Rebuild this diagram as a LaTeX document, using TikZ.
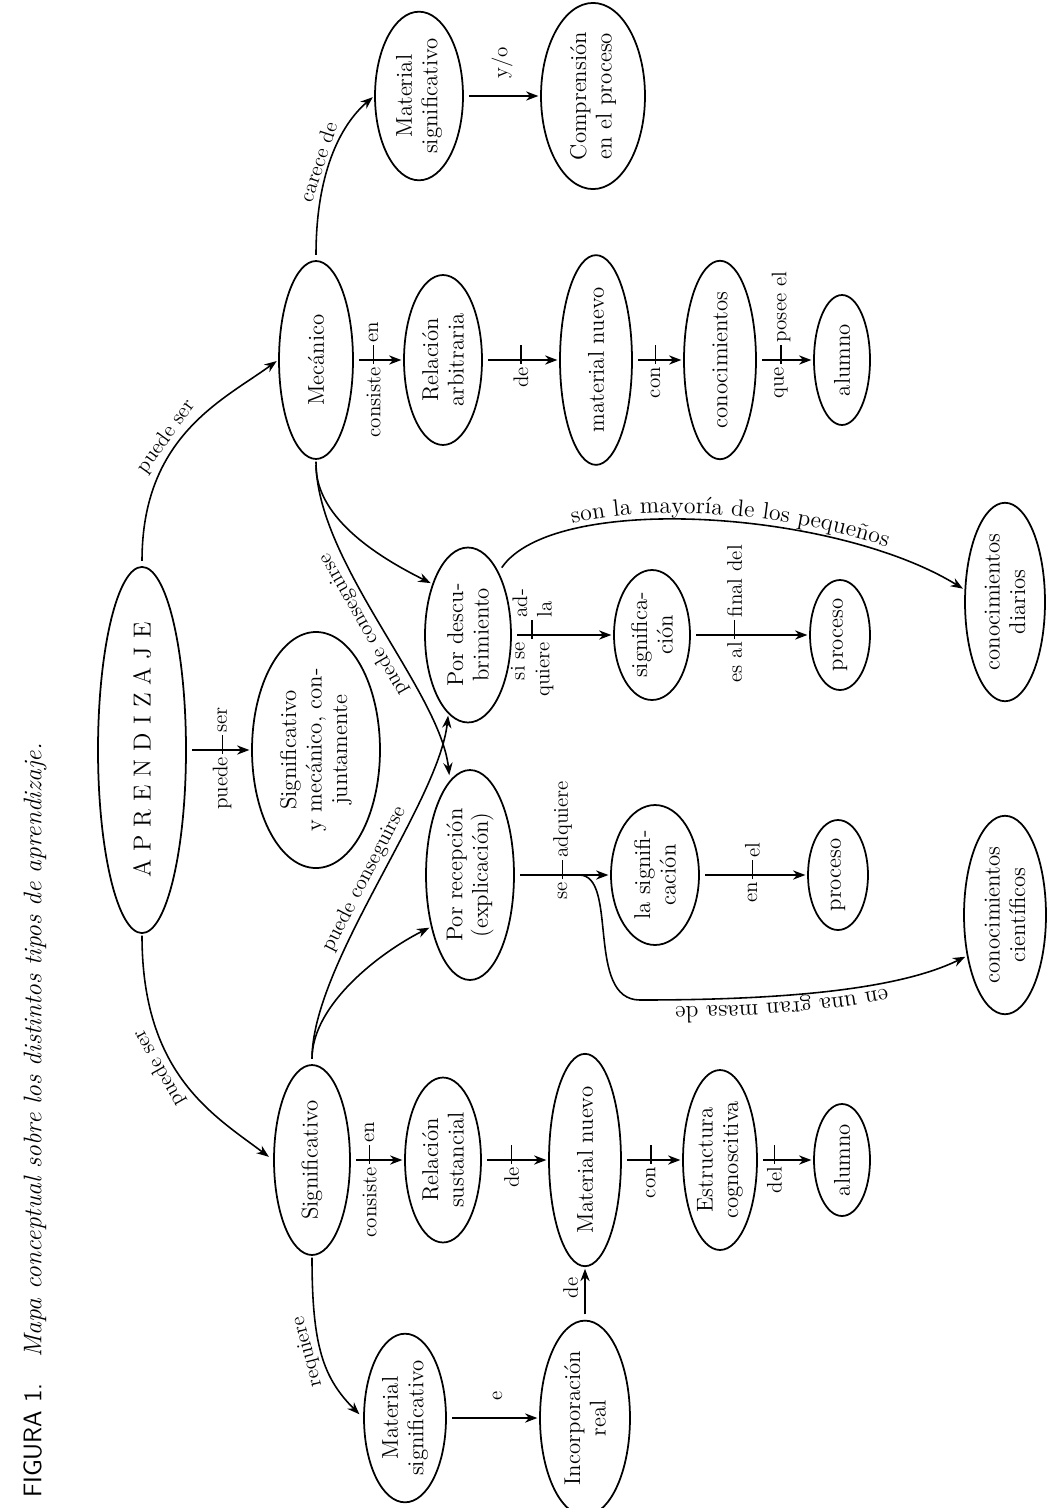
\documentclass[tikz,border=0pt]{standalone}
\usepackage{tikz}
\usetikzlibrary{arrows.meta,shapes.geometric,decorations.text}

\tikzset{
  concept/.style = {ellipse,draw,line width=1pt,rotate=90,align=center,
                    inner sep=1pt,font=\fontsize{13}{14.5}\selectfont},
  dims/.style 2 args = {minimum width=#1,minimum height=#2},
  arrow/.style   = {->,>=Stealth,line width=.9pt,shorten <=3pt,shorten >=1pt},
  lbl/.style     = {rotate=90,inner sep=1pt,font=\large},
  lo/.style      = {lbl,anchor=east,outer sep=3pt},
  hi/.style      = {lbl,anchor=west,outer sep=9pt},
  lft/.style     = {lbl,anchor=south,outer sep=3pt},
  clbl/.style    = {sloped,inner sep=2pt,font=\large},
  tickbar/.style = {rectangle,fill,inner sep=0pt,minimum width=.8pt,
                    minimum height=11pt,yshift=3pt},
}

\begin{document}
\begin{tikzpicture}[x=0.02cm,y=-0.02cm]
  \useasboundingbox (0,0) rectangle (1058,1508);

  % caption
  \node[lbl,anchor=west,font=\fontsize{14.5}{16}\selectfont] (figcap) at (35,1500)
       {\textsf{FIGURA 1.}\quad\textit{Mapa conceptual sobre los distintos tipos de aprendizaje.}};

  % concepts
  \node[concept,dims={5.8cm}{1.76cm},font=\fontsize{14}{16}\selectfont] (aprend) at (142,750) {A P R E N D I Z A J E};
  \node[concept,dims={4.0cm}{2.56cm}] (conj) at (316,750) {Significativo\\y mecánico, con-\\juntamente};
  \node[concept,dims={3.96cm}{1.48cm}] (mec) at (316,360) {Mecánico};
  \node[concept,dims={3.8cm}{1.52cm}] (sig) at (312,1160) {Significativo};

  \node[concept,dims={3.3cm}{1.76cm}] (matsigA) at (419,96) {Material\\significativo};
  \node[concept,dims={3.56cm}{2.08cm}] (compr) at (593,96) {Comprensión\\en el proceso};

  \node[concept,dims={3.4cm}{1.56cm}] (relarb) at (443,360) {Relación\\arbitraria};
  \node[concept,dims={3.8cm}{1.44cm}] (matnuevoA) at (596,360) {material nuevo};
  \node[concept,dims={3.9cm}{1.44cm}] (conocA) at (720,360) {conocimientos};
  \node[concept,dims={2.6cm}{1.12cm}] (alumA) at (842,360) {alumno};

  \node[concept,dims={3.5cm}{1.72cm}] (desc) at (468,635) {Por descu-\\brimiento};
  \node[concept,dims={2.6cm}{1.52cm}] (signifA) at (652,635) {significa-\\ción};
  \node[concept,dims={2.2cm}{1.2cm}] (procA) at (840,635) {proceso};
  \node[concept,dims={3.5cm}{1.6cm}] (diar) at (1005,602) {conocimientos\\diarios};

  \node[concept,dims={4.2cm}{1.76cm}] (recep) at (470,875) {Por recepción\\(explicación)};
  \node[concept,dims={2.8cm}{1.76cm}] (signifB) at (655,875) {la signifi-\\cación};
  \node[concept,dims={2.2cm}{1.2cm}] (procB) at (838,875) {proceso};
  \node[concept,dims={3.8cm}{1.64cm}] (cient) at (1005,915) {conocimientos\\científicos};

  \node[concept,dims={3.3cm}{1.52cm}] (relsus) at (443,1160) {Relación\\sustancial};
  \node[concept,dims={3.7cm}{1.44cm}] (matnuevoB) at (585,1160) {Material nuevo};
  \node[concept,dims={3.6cm}{1.48cm}] (estr) at (720,1160) {Estructura\\cognoscitiva};
  \node[concept,dims={2.24cm}{1.12cm}] (alumB) at (842,1160) {alumno};

  \node[concept,dims={3.1cm}{1.64cm}] (matsigB) at (405,1418) {Material\\significativo};
  \node[concept,dims={3.5cm}{1.8cm}] (incorp) at (585,1418) {Incorporación\\real};

  % curved links
  \draw[arrow] (aprend.east) .. controls +(0,-130) and +(-55,40) .. (mec.north)
       node[pos=.42,clbl,above] {puede ser};
  \draw[arrow,<-] (sig.north) .. controls +(-60,-45) and +(0,140) .. (aprend.west)
       node[pos=.6,clbl,allow upside down,above] {puede ser};
  \draw[arrow] (mec.east) .. controls +(0,-85) and +(-35,30) .. (matsigA.north)
       node[pos=.45,clbl,above] {carece de};
  \draw[arrow,<-] (matsigB.north) .. controls +(-40,-40) and +(0,90) .. (sig.west)
       node[pos=.55,clbl,allow upside down,above] {requiere};

  \draw[arrow] (mec.west) .. controls +(0,60) and +(-50,-25) .. (desc.35);
  \draw[arrow,<-] (recep.12) .. controls +(-10,-90) and +(0,102) .. (mec.west)
       node[pos=.52,clbl,allow upside down,above] {puede conseguirse};
  \draw[arrow] (sig.east) .. controls +(0,-100) and +(-10,90) .. (desc.166)
       node[pos=.5,clbl,above] {puede conseguirse};
  \draw[arrow] (sig.east) .. controls +(0,-60) and +(-50,25) .. (recep.143);

  \draw[arrow] (desc.334) .. controls +(55,-80) and +(-130,-80) .. (diar.73);
  \path[decorate,decoration={text along path,text align=center,raise=4pt,
        text={|\fontsize{13.5}{15}\selectfont|son la mayoría de los pequeños}}]
       (desc.334) .. controls +(55,-80) and +(-130,-80) .. (diar.73);

  % straight links
  \draw[arrow] (aprend) -- (conj) node[pos=.55,tickbar]{} node[pos=.55,lo]{puede} node[pos=.55,hi]{ser};
  \draw[arrow] (matsigA) -- (compr) node[midway,hi]{y/o};
  \draw[arrow] (mec) -- (relarb) node[pos=.4,tickbar]{} node[pos=.4,lo]{consiste} node[pos=.4,hi]{en};
  \draw[arrow] (relarb) -- (matnuevoA) node[pos=.5,tickbar]{} node[pos=.5,lo]{de};
  \draw[arrow] (matnuevoA) -- (conocA) node[pos=.45,tickbar]{} node[pos=.45,lo]{con};
  \draw[arrow] (conocA) -- (alumA) node[pos=.43,tickbar]{} node[pos=.43,lo]{que} node[pos=.43,hi]{posee el};

  \draw[arrow] (desc) -- (signifA) node[pos=.2,tickbar]{}
       node[pos=.2,lo,align=right]{si se\\quiere} node[pos=.2,hi,align=left]{ad-\\la};
  \draw[arrow] (signifA) -- (procA) node[pos=.37,tickbar]{} node[pos=.37,lo]{es al} node[pos=.37,hi]{final del};

  \draw[arrow] (recep) -- (signifB) node[pos=.5,tickbar]{} node[pos=.5,lo]{se} node[pos=.5,hi]{adquiere}
       coordinate[pos=.62] (fork);
  \draw[arrow] (signifB) -- (procB) node[pos=.49,tickbar]{} node[pos=.49,lo]{en} node[pos=.49,hi]{el};
  \coordinate (dip) at (640,1000);
  \draw[arrow] (fork) .. controls +(45,0) and +(-55,0) .. (dip)
       .. controls +(120,0) and +(-75,37) .. (cient.137);
  \path[decorate,decoration={text along path,text align={center,left indent=1cm},raise=4pt,
        text={|\fontsize{13.5}{15}\selectfont|en una gran masa de}}]
       (cient.137) .. controls +(-75,37) and +(120,0) .. (dip);

  \draw[arrow] (sig) -- (relsus) node[pos=.35,tickbar]{} node[pos=.35,lo]{consiste} node[pos=.35,hi]{en};
  \draw[arrow] (relsus) -- (matnuevoB) node[pos=.45,tickbar]{} node[pos=.45,lo]{de};
  \draw[arrow] (matnuevoB) -- (estr) node[pos=.48,tickbar]{} node[pos=.48,lo]{con};
  \draw[arrow] (estr) -- (alumB) node[pos=.3,tickbar]{} node[pos=.3,lo]{del};

  \draw[arrow] (matsigB) -- (incorp) node[pos=.55,hi]{e};
  \draw[arrow] (incorp) -- (matnuevoB) node[pos=.6,lft]{de};
\end{tikzpicture}
\end{document}
